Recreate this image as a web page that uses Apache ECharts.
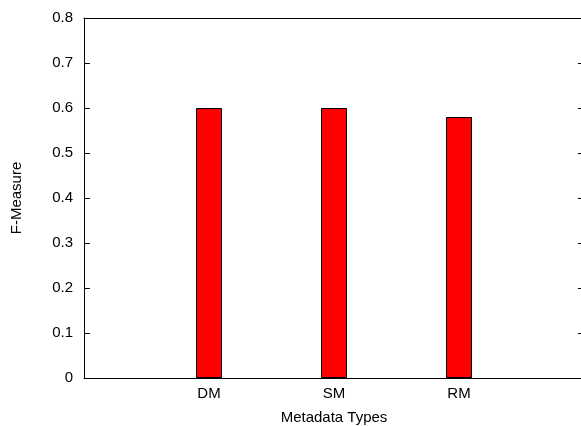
<!DOCTYPE html>
<html>
<head>
<meta charset="utf-8">
<script src="https://cdn.jsdelivr.net/npm/echarts@6/dist/echarts.min.js"></script>
<style>html,body{margin:0;padding:0;background:#fff;}#c{width:581px;height:426px;}</style>
</head>
<body>
<div id="c"></div>
<script>
const categories = ['DM', 'SM', 'RM'];
const fMeasure = [0.6, 0.6, 0.58];
const yTicks = [0, 0.1, 0.2, 0.3, 0.4, 0.5, 0.6, 0.7, 0.8];

const chart = echarts.init(document.getElementById('c'), null, {renderer: 'canvas'});
const font = 'Liberation Sans, Arial, Helvetica, sans-serif';
const fs = 15;
const lineStyle = {color: '#000', width: 1};
chart.setOption({
  animation: false,
  grid: {left: 84, top: 18, width: 500, height: 360, containLabel: false, outerBoundsMode: 'none'},
  xAxis: [{
    type: 'value', min: 0, max: categories.length + 1, interval: 1,
    position: 'bottom',
    axisLine: {show: true, onZero: false, lineStyle},
    axisTick: {show: false},
    splitLine: {show: false},
    axisLabel: {
      color: '#000', fontFamily: font, fontSize: fs, margin: 8,
      formatter: v => (v >= 1 && v <= categories.length) ? categories[v - 1] : ''
    },
    name: 'Metadata Types', nameLocation: 'middle', nameGap: 32,
    nameTextStyle: {color: '#000', fontFamily: font, fontSize: fs}
  }, {
    type: 'value', min: 0, max: categories.length + 1, interval: 1,
    position: 'top',
    axisLine: {show: true, onZero: false, lineStyle},
    axisTick: {show: false}, axisLabel: {show: false}, splitLine: {show: false}
  }],
  yAxis: [{
    type: 'value', min: 0, max: 0.8, interval: 0.1,
    position: 'left',
    axisLine: {show: true, onZero: false, lineStyle},
    axisTick: {show: true, inside: true, length: 6, lineStyle},
    splitLine: {show: false},
    axisLabel: {
      color: '#000', fontFamily: font, fontSize: fs, margin: 11,
      formatter: v => {
        const t = yTicks.find(x => Math.abs(x - v) < 1e-9);
        return t === 0 ? '0' : (t !== undefined ? t.toFixed(1) : '');
      }
    },
    name: 'F-Measure', nameLocation: 'middle', nameGap: 60, nameRotate: 90,
    nameTextStyle: {color: '#000', fontFamily: font, fontSize: fs}
  }, {
    type: 'value', min: 0, max: 0.8, interval: 0.1,
    position: 'right',
    axisLine: {show: true, onZero: false, lineStyle},
    axisTick: {show: true, inside: true, length: 6, lineStyle},
    axisLabel: {show: false}, splitLine: {show: false}
  }],
  series: [{
    type: 'bar',
    xAxisIndex: 0, yAxisIndex: 0,
    barWidth: 26,
    itemStyle: {color: '#ff0000', borderColor: '#000', borderWidth: 1},
    data: fMeasure.map((v, i) => [i + 1, v])
  }]
});
</script>
</body>
</html>
